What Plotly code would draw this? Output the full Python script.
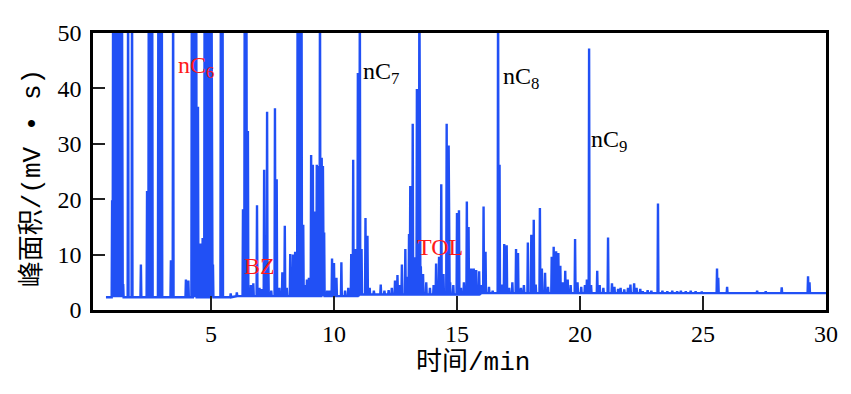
import plotly.graph_objects as go

# ---------------- data ----------------
# retention time (min) and peak height (mV·s); values > 50 are off-scale peaks
peak_time = [
    0.98, 1.02, 1.08, 1.14, 1.20, 1.26, 1.32, 1.38, 1.43,
    1.63, 1.79, 2.15,
    2.40, 2.47, 2.54, 2.61, 2.86, 2.93, 3.00,
    3.37, 3.46, 3.98, 4.08,
    4.22, 4.28, 4.34, 4.40, 4.47, 4.58, 4.66,
    4.74, 4.80, 4.88, 4.96, 5.02, 5.08,
    5.40, 5.47, 5.80, 6.05,
    6.30, 6.37, 6.44, 6.50, 6.62, 6.72, 6.87, 6.97, 7.06,
    7.16, 7.28, 7.33, 7.45, 7.60, 7.67, 7.78, 7.90, 8.00, 8.08,
    8.22, 8.33, 8.42, 8.52, 8.60, 8.68, 8.75, 8.82, 8.90, 8.98,
    9.07, 9.14, 9.23, 9.30, 9.36, 9.43, 9.50, 9.55, 9.60, 9.72, 9.82,
    9.92, 10.00, 10.10, 10.30, 10.45, 10.58,
    10.70, 10.78, 10.88, 10.97, 11.05, 11.12, 11.28, 11.36, 11.45,
    11.62, 11.90, 12.05, 12.22, 12.35, 12.48, 12.58, 12.66, 12.76, 12.90, 12.98,
    13.05, 13.10, 13.20, 13.27, 13.37, 13.47, 13.53, 13.62, 13.75, 13.90, 14.05,
    14.15, 14.27, 14.36, 14.45, 14.58, 14.66, 14.72, 14.85,
    15.00, 15.08, 15.16, 15.28, 15.40, 15.47, 15.58, 15.68, 15.78, 15.90, 16.00,
    16.08, 16.16, 16.30, 16.45,
    16.67, 16.73, 16.82, 16.92, 17.02, 17.12, 17.25,
    17.40, 17.48, 17.60, 17.72, 17.88, 18.02, 18.12, 18.20,
    18.37, 18.45, 18.58, 18.70, 18.85, 18.93, 19.03, 19.12, 19.20, 19.30,
    19.40, 19.50, 19.62, 19.80, 19.90, 20.05, 20.20, 20.28,
    20.37, 20.45, 20.70, 20.80, 20.95,
    21.14, 21.30, 21.40, 21.55, 21.65, 21.80, 21.95, 22.05, 22.20, 22.30, 22.45,
    22.55, 22.75, 22.90, 23.17, 23.35, 23.55, 23.75, 23.95, 24.10, 24.30, 24.50,
    24.70, 24.95,
    25.57, 25.62, 25.98, 27.20, 27.55, 28.20, 29.27, 29.33,
]
peak_height = [
    19.8, 60, 60, 60, 60, 60, 60, 60, 4.7,
    60, 60, 8.2,
    21.5, 60, 60, 60, 60, 60, 60,
    9.0, 60, 5.5, 5.3,
    60, 60, 60, 60, 36.7, 12.0, 13.0,
    60, 60, 60, 60, 60, 8.2,
    60, 60, 3.0, 3.2,
    18.2, 60, 60, 32.3, 4.5, 4.8, 18.9, 4.0, 3.8,
    25.3, 35.8, 8.5, 3.5, 36.4, 23.6, 4.0, 6.8, 15.2, 4.0,
    10.1, 10.0, 10.5, 60, 60, 60, 15.4, 4.5, 5.5, 5.8,
    28.0, 26.2, 17.8, 26.2, 26.0, 60, 27.5, 26.0, 14.0, 3.5, 3.5,
    9.3, 8.5, 5.8, 8.6, 3.5, 4.0,
    10.1, 27.1, 11.0, 42.8, 60, 11.0, 16.6, 13.4, 4.0,
    3.5, 4.6, 3.5, 3.6, 4.0, 5.3, 6.3, 4.5, 8.2, 11.0, 6.0,
    13.7, 22.4, 33.6, 9.5, 39.9, 60, 7.9, 6.5, 5.0, 4.0, 4.5,
    8.4, 9.6, 22.7, 6.5, 33.6, 29.7, 5.0, 4.5,
    17.5, 18.0, 4.0, 5.0, 19.6, 15.0, 7.5, 7.5, 7.2, 7.0, 4.5,
    18.7, 10.5, 4.2, 3.5,
    60, 26.2, 4.6, 11.9, 11.7, 4.0, 5.0,
    11.0, 10.3, 4.0, 4.5, 12.2, 13.6, 16.3, 4.6,
    18.4, 7.5, 6.7, 4.2, 9.6, 11.4, 10.6, 10.3, 8.0, 5.0,
    7.1, 5.5, 4.5, 12.8, 5.0, 4.2, 4.5, 5.5,
    47.2, 4.5, 7.1, 4.5, 4.0,
    13.1, 4.8, 4.2, 3.8, 4.0, 3.7, 4.0, 4.6, 4.8, 4.0, 3.8,
    3.4, 3.6, 3.5, 19.2, 3.5, 3.4, 3.5, 3.4, 3.5, 3.4, 3.5,
    3.4, 3.3,
    7.5, 5.8, 4.2, 3.5, 3.4, 4.1, 6.1, 5.0,
]
# detector baseline level per time window
base_edges = [0.73, 6.0, 11.0, 16.0, 30.0]
base_level = [2.3, 2.5, 2.8, 3.05]

# peak labels
label_text = ["nC<sub>6</sub>", "nC<sub>7</sub>", "nC<sub>8</sub>", "nC<sub>9</sub>", "BZ", "TOL"]
label_time = [3.58, 11.1, 16.8, 20.38, 6.26, 13.3]
label_value = [43.9, 42.7, 41.9, 30.5, 7.9, 11.4]
label_color = ["#ff1a1a", "black", "black", "black", "#ff1a1a", "#ff1a1a"]

x_ticks = [5, 10, 15, 20, 25, 30]
y_ticks = [0, 10, 20, 30, 40, 50]


def base_at(t):
    for i in range(len(base_level)):
        if t < base_edges[i + 1]:
            return base_level[i]
    return base_level[-1]


half_w = 0.018
xs = [base_edges[0]]
ys = [base_at(base_edges[0])]
for t, h in sorted(zip(peak_time, peak_height)):
    b = base_at(t)
    xs += [t - half_w, t, t + half_w]
    ys += [b, h, b]
xs.append(base_edges[-1])
ys.append(base_level[-1])

fig = go.Figure()
fig.add_trace(go.Scatter(x=xs, y=ys, mode="lines",
                         line=dict(color="#2150f5", width=2.4),
                         hoverinfo="skip", showlegend=False))

for txt, t, v, c in zip(label_text, label_time, label_value, label_color):
    fig.add_annotation(x=t, y=v, text=txt, showarrow=False, xanchor="left",
                       yanchor="middle",
                       font=dict(family="Liberation Serif", size=24, color=c))

title_font = dict(family="Liberation Mono, Noto Sans CJK SC", size=26, color="black")
fig.add_annotation(xref="paper", yref="paper", x=(473 - 93) / 733, y=(310 - 364) / 286,
                   text="时间/min", showarrow=False, xanchor="center", yanchor="middle",
                   font=title_font)
fig.add_annotation(xref="paper", yref="paper", x=(32 - 93) / 733, y=(310 - 174) / 286,
                   text="峰面积/(mV • s)", showarrow=False, xanchor="center",
                   yanchor="middle", textangle=-90, font=title_font)

axis_common = dict(ticks="inside", tickwidth=2, tickcolor="#222",
                   showline=True, linewidth=2.5, linecolor="black", mirror=True,
                   showgrid=False, zeroline=False,
                   tickfont=dict(family="Liberation Serif", size=24, color="black"))
fig.update_xaxes(range=[0.203, 30], tickvals=x_ticks, ticklen=14, **axis_common)
fig.update_yaxes(range=[0, 50], tickvals=y_ticks, ticklen=12, ticklabelstandoff=4,
                 **axis_common)

# the page body adds an 8 px margin, so the figure is 8 px smaller each way
# plot area: x 93..826, y 24..310 in the window
fig.update_layout(width=843, height=386,
                  margin=dict(l=85, r=25, t=16, b=84),
                  paper_bgcolor="white", plot_bgcolor="white")

fig.write_html("out.html")
